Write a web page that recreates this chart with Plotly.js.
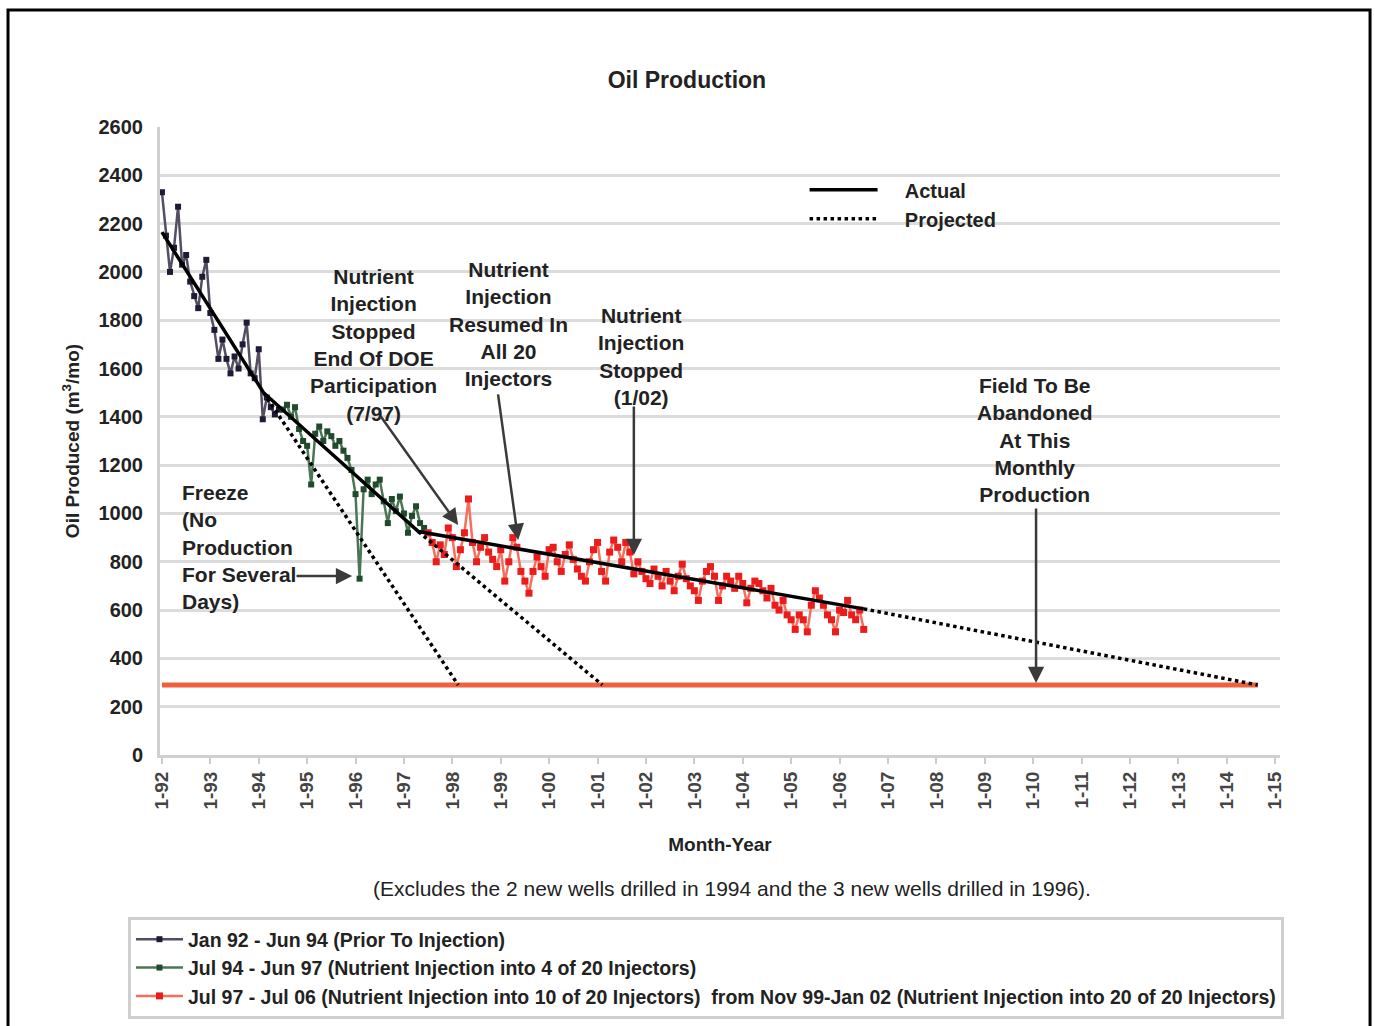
<!DOCTYPE html>
<html>
<head>
<meta charset="utf-8">
<script src="https://cdn.plot.ly/plotly-3.0.1.min.js"></script>
<style>
  html, body { margin: 0; padding: 0; background: #ffffff; }
  #chart { width: 1375px; height: 1026px; }
</style>
</head>
<body>
<div id="chart"></div>
<script>
// ---------- DATA ----------
const tickYears = [1992,1993,1994,1995,1996,1997,1998,1999,2000,2001,2002,2003,2004,2005,2006,2007,2008,2009,2010,2011,2012,2013,2014,2015];
const tickText = ['1-92','1-93','1-94','1-95','1-96','1-97','1-98','1-99','1-00','1-01','1-02','1-03','1-04','1-05','1-06','1-07','1-08','1-09','1-10','1-11','1-12','1-13','1-14','1-15'];

// Jan 92 - Jun 94 (monthly, m3/mo)
const s1Start = 1992.0;
const s1Values = [2330,2150,2000,2100,2270,2030,2070,1960,1900,1850,1980,2050,
                  1830,1760,1640,1720,1640,1580,1650,1600,1700,1790,1580,1560,
                  1680,1390,1480,1440,1410,1430];

// Jul 94 - Jun 97
const s2Start = 1994.5;
const s2Values = [1430,1450,1400,1440,1350,1300,
                  1280,1120,1330,1360,1300,1340,1320,1280,1300,1260,1230,1180,
                  1080,730,1100,1140,1080,1120,1140,1050,960,1060,1010,1070,
                  1000,920,990,1030,960,940];

// Jul 97 - Jul 06
const s3Start = 1997.5;
const s3Values = [920,880,800,870,830,940,900,780,850,920,1060,880,
                  800,860,900,840,810,780,850,720,800,900,860,760,
                  720,670,760,820,780,740,850,860,800,760,830,870,
                  810,770,740,720,800,850,880,760,720,840,890,860,
                  800,880,840,750,800,760,730,710,770,740,700,760,
                  720,680,740,790,730,700,680,640,720,760,780,740,
                  640,700,740,720,690,740,710,630,690,720,710,680,
                  650,690,620,600,640,580,560,520,580,560,510,620,
                  680,650,620,580,560,510,600,590,640,580,560,600,
                  520];

// Trend lines
const actualX = [1992.0, 1994.1, 1997.3, 2006.5];
const actualY = [2165, 1500, 925, 605];
const proj1X = [1994.1, 1998.12];
const proj1Y = [1500, 290];
const proj2X = [1997.3, 2001.1];
const proj2Y = [925, 290];
const proj3X = [2006.5, 2014.64];
const proj3Y = [605, 290];

// Abandonment rate
const limitX = [1992.0, 2014.64];
const limitY = [290, 290];

// Series names
const s1Name = 'Jan 92 - Jun 94 (Prior To Injection)';
const s2Name = 'Jul 94 - Jun 97 (Nutrient Injection into 4 of 20 Injectors)';
const s3Name = 'Jul 97 - Jul 06 (Nutrient Injection into 10 of 20 Injectors)&nbsp;&nbsp;from Nov 99-Jan 02 (Nutrient Injection into 20 of 20 Injectors)';
const NB = '&nbsp;&nbsp;&nbsp;&nbsp;';

// ---------- BUILD ----------
function monthly(start, vals) { return vals.map((v, i) => start + i / 12); }

const FONT = 'Liberation Sans, Arial, Helvetica, sans-serif';
const BOLD = { family: FONT, weight: 'bold', color: '#222' };

const traces = [
  { x: limitX, y: limitY, mode: 'lines', line: { color: '#f0603e', width: 5 }, showlegend: false, hoverinfo: 'skip' },
  { x: monthly(s1Start, s1Values), y: s1Values, name: s1Name, mode: 'lines+markers',
    line: { color: '#554d62', width: 2.5 }, marker: { color: '#1e1c34', size: 6, symbol: 'square' }, legend: 'legend' },
  { x: monthly(s2Start, s2Values), y: s2Values, name: s2Name, mode: 'lines+markers',
    line: { color: '#4a7656', width: 2.5 }, marker: { color: '#1f4a2c', size: 6, symbol: 'square' }, legend: 'legend' },
  { x: monthly(s3Start, s3Values), y: s3Values, name: s3Name, mode: 'lines+markers',
    line: { color: '#f4705c', width: 2.5 }, marker: { color: '#ec1c1c', size: 7, symbol: 'square' }, legend: 'legend' },
  { x: actualX, y: actualY, name: NB + 'Actual', mode: 'lines', line: { color: '#000', width: 3.5 }, legend: 'legend2' },
  { x: proj1X, y: proj1Y, name: NB + 'Projected', mode: 'lines', line: { color: '#000', width: 3.5, dash: 'dot' }, legend: 'legend2' },
  { x: proj2X, y: proj2Y, name: 'Projected', mode: 'lines', line: { color: '#000', width: 3.5, dash: 'dot' }, showlegend: false },
  { x: proj3X, y: proj3Y, name: 'Projected', mode: 'lines', line: { color: '#000', width: 3.5, dash: 'dot' }, showlegend: false }
];

const textAnn = (x, y, text, align) => ({
  x: x, y: y, xref: 'x', yref: 'y', text: text, showarrow: false,
  xanchor: align === 'left' ? 'left' : 'center', yanchor: 'top', align: align || 'center',
  font: Object.assign({}, BOLD, { size: 21 })
});
const arrowAnn = (x, y, ax, ay) => ({
  x: x, y: y, ax: ax, ay: ay, xref: 'x', yref: 'y', axref: 'x', ayref: 'y',
  text: '', showarrow: true, arrowhead: 2, arrowsize: 1.3, arrowwidth: 2.5, arrowcolor: '#3a3a3a'
});

const annotations = [
  textAnn(1996.38, 2035, 'Nutrient<br>Injection<br>Stopped<br>End Of DOE<br>Participation<br>(7/97)'),
  textAnn(1999.17, 2068, 'Nutrient<br>Injection<br>Resumed In<br>All 20<br>Injectors'),
  textAnn(2001.90, 1877, 'Nutrient<br>Injection<br>Stopped<br>(1/02)'),
  textAnn(2010.04, 1587, 'Field To Be<br>Abandoned<br>At This<br>Monthly<br>Production'),
  textAnn(1992.37, 1144, 'Freeze<br>(No<br>Production<br>For Several<br>Days)', 'left'),
  arrowAnn(1998.12, 952, 1996.50, 1408),
  arrowAnn(1999.36, 890, 1998.94, 1499),
  arrowAnn(2001.75, 828, 2001.75, 1449),
  arrowAnn(2010.06, 298, 2010.06, 1027),
  arrowAnn(1995.93, 741, 1994.75, 741),
  { xref: 'paper', yref: 'paper', x: 0.5107, y: -0.2118, xanchor: 'center', yanchor: 'middle',
    text: '(Excludes the 2 new wells drilled in 1994 and the 3 new wells drilled in 1996).',
    showarrow: false, font: { family: FONT, size: 21, color: '#222' } }
];

const layout = {
  width: 1375, height: 1026,
  margin: { l: 160, r: 95, t: 127, b: 271, autoexpand: false },
  paper_bgcolor: '#ffffff', plot_bgcolor: '#ffffff',
  font: { family: FONT, color: '#222' },
  title: { text: 'Oil Production', x: 0.4705, xref: 'paper', xanchor: 'center',
           y: 1 - 80 / 1026, yref: 'container', yanchor: 'middle',
           font: Object.assign({}, BOLD, { size: 23 }) },
  xaxis: {
    range: [1991.96, 2015.10], tickvals: tickYears, ticktext: tickText, tickangle: -90,
    tickfont: Object.assign({}, BOLD, { size: 19, color: '#444' }),
    ticks: 'outside', ticklen: 6, tickwidth: 2, tickcolor: '#cccccc',
    showgrid: false, zeroline: false, showline: true, linecolor: '#cfcfcf', linewidth: 3,
    automargin: false,
    title: { text: 'Month-Year', font: Object.assign({}, BOLD, { size: 19 }), standoff: 30 }
  },
  yaxis: {
    range: [0, 2600], dtick: 200, tick0: 0,
    tickfont: Object.assign({}, BOLD, { size: 20 }),
    gridcolor: '#dcdcdc', gridwidth: 3, zeroline: false, automargin: false,
    showline: true, linecolor: '#cfcfcf', linewidth: 3, ticks: '', ticklabelstandoff: 10,
    title: { text: 'Oil Produced (m<sup>3</sup>/mo)', font: Object.assign({}, BOLD, { size: 19 }), standoff: 14 }
  },
  legend: {
    x: -0.0286, xanchor: 'left', y: -0.2580, yanchor: 'top', xref: 'paper', yref: 'paper',
    bordercolor: '#cfcfcf', borderwidth: 3, bgcolor: '#ffffff',
    font: Object.assign({}, BOLD, { size: 19.5 }), itemwidth: 47, tracegroupgap: 0
  },
  legend2: {
    x: 0.5755, xanchor: 'left', y: 0.931, yanchor: 'top', xref: 'paper', yref: 'paper',
    bgcolor: 'rgba(0,0,0,0)', borderwidth: 0,
    font: Object.assign({}, BOLD, { size: 20 }), itemwidth: 68, tracegroupgap: 0
  },
  annotations: annotations,
  shapes: [
    { type: 'rect', xref: 'paper', yref: 'paper', x0: -0.1357, x1: 1.0804, y0: -0.46, y1: 1.1863,
      line: { color: '#000', width: 3 }, fillcolor: 'rgba(0,0,0,0)', layer: 'above' }
  ],
  showlegend: true
};

Plotly.newPlot('chart', traces, layout, { displayModeBar: false, staticPlot: true });
</script>
</body>
</html>
